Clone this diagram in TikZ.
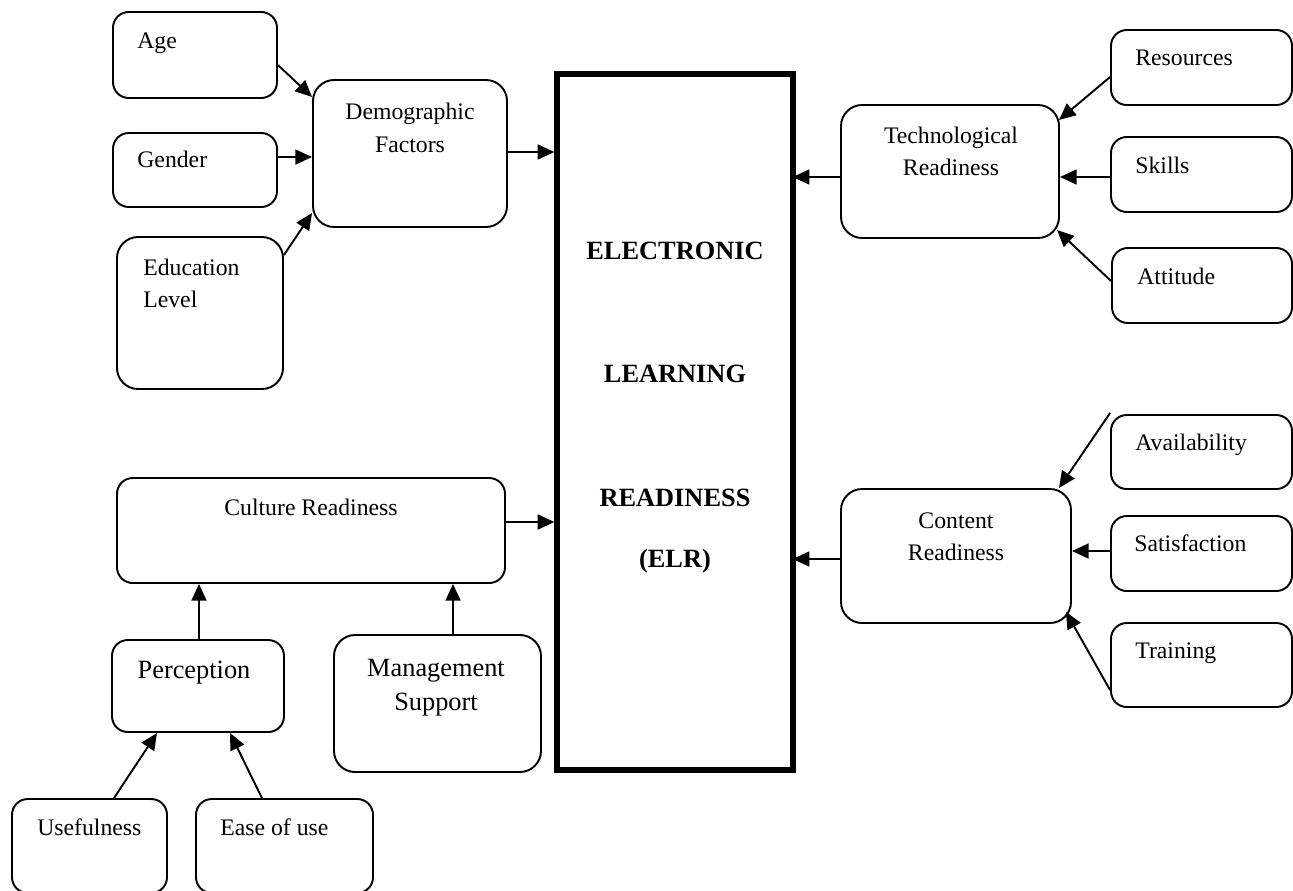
\documentclass[tikz,border=0pt]{standalone}
\usepackage{fontspec}
\setmainfont{Liberation Serif}
\usetikzlibrary{arrows.meta,fit,calc}
\begin{document}
\begin{tikzpicture}[x=0.02cm,y=-0.02cm,
  box/.style={draw,line width=1.1pt,rounded corners=9pt,inner sep=0pt,rectangle},
  bigbox/.style={box,rounded corners=12pt},
  elrbox/.style={draw,line width=3pt,inner sep=0pt,rectangle},
  txt/.style={inner sep=0pt,font=\fontsize{13.5}{16}\selectfont},
  bigtxt/.style={inner sep=0pt,font=\fontsize{15}{18}\selectfont},
  elrtxt/.style={inner sep=0pt,font=\fontsize{15}{18}\selectfont\bfseries},
  arr/.style={line width=1.1pt,-{Triangle[length=9.5pt,width=8.5pt]}}]
\useasboundingbox (0,0) rectangle (1293,890);
% boxes
\node[box,fit={(113,12)(277,98)}] (age) {};
\node[box,fit={(113,133)(277,207)}] (gender) {};
\node[bigbox,fit={(117,237)(283,389)}] (edu) {};
\node[bigbox,fit={(313,80)(507,227)}] (demo) {};
\node[elrbox,fit={(557,74)(793,770)}] (elr) {};
\node[bigbox,fit={(841,105)(1059,238)}] (tech) {};
\node[box,fit={(1111,30)(1292,105)}] (res) {};
\node[box,fit={(1111,137)(1292,212)}] (skills) {};
\node[box,fit={(1112,248)(1292,323)}] (att) {};
\node[box,fit={(1111,415)(1292,489)}] (avail) {};
\node[bigbox,fit={(841,489)(1071,623)}] (content) {};
\node[box,fit={(1111,516)(1292,591)}] (sat) {};
\node[box,fit={(1111,623)(1292,707)}] (train) {};
\node[box,fit={(117,478)(505,583)}] (culture) {};
\node[box,fit={(112,640)(284,732)}] (perc) {};
\node[bigbox,fit={(334,635)(541,772)}] (mgmt) {};
\node[box,fit={(12,799)(167,893)}] (use) {};
\node[box,fit={(196,799)(373,893)}] (ease) {};
% texts
\node[txt,anchor=base west] (tage) at (137,48) {Age};
\node[txt,anchor=base west] (tgender) at (137,167) {Gender};
\node[txt,anchor=base west] (tedu1) at (143,275) {Education};
\node[txt,anchor=base west] (tedu2) at (143,307) {Level};
\node[txt,anchor=base] (tdemo1) at (410,119) {Demographic};
\node[txt,anchor=base] (tdemo2) at (410,152) {Factors};
\node[txt,anchor=base] (ttech1) at (951,143) {Technological};
\node[txt,anchor=base] (ttech2) at (951,175) {Readiness};
\node[txt,anchor=base west] (tres) at (1135,65) {Resources};
\node[txt,anchor=base west] (tskills) at (1135,173) {Skills};
\node[txt,anchor=base west] (tatt) at (1137,284) {Attitude};
\node[txt,anchor=base west] (tavail) at (1135,450) {Availability};
\node[txt,anchor=base] (tcont1) at (956,528) {Content};
\node[txt,anchor=base] (tcont2) at (956,560) {Readiness};
\node[txt,anchor=base west] (tsat) at (1134,551) {Satisfaction};
\node[txt,anchor=base west] (ttrain) at (1135,658) {Training};
\node[txt,anchor=base] (tcult) at (311,515) {Culture Readiness};
\node[bigtxt,anchor=base] (tperc) at (194,678) {Perception};
\node[bigtxt,anchor=base] (tmgmt1) at (436,676) {Management};
\node[bigtxt,anchor=base] (tmgmt2) at (436,710) {Support};
\node[txt,anchor=base west] (tuse) at (37,835) {Usefulness};
\node[txt,anchor=base west] (tease) at (220,835) {Ease of use};
\node[elrtxt,anchor=base] (telr1) at (675,259) {ELECTRONIC};
\node[elrtxt,anchor=base] (telr2) at (675,382) {LEARNING};
\node[elrtxt,anchor=base] (telr3) at (675,506) {READINESS};
\node[elrtxt,anchor=base] (telr4) at (675,567) {(ELR)};
% arrows
\draw[arr] (age.east |- 0,65) -- (demo.west |- 0,97);
\draw[arr] (gender.east |- 0,157) -- (demo.west |- 0,157);
\draw[arr] (edu.east |- 0,255) -- (demo.west |- 0,213);
\draw[arr] (demo.east |- 0,152) -- (elr.west |- 0,152);
\draw[arr] (tech.west |- 0,177) -- ($(elr.east |- 0,177)+(-3,0)$);
\draw[arr] (res.west |- 0,77) -- ($(tech.east |- 0,120)+(-1,0)$);
\draw[arr] (skills.west |- 0,177) -- (tech.east |- 0,177);
\draw[arr] (att.west |- 0,281) -- ($(tech.east |- 0,230)+(-3,0)$);
\draw[arr] (avail.west |- 0,413) -- ($(content.north east)+(-13,0)$);
\draw[arr] (sat.west |- 0,551) -- (content.east |- 0,551);
\draw[arr] (train.west |- 0,690) -- ($(content.east |- 0,612)+(-6,0)$);
\draw[arr] (content.west |- 0,559) -- ($(elr.east |- 0,559)+(-3,0)$);
\draw[arr] (culture.east |- 0,522) -- (elr.west |- 0,522);
\draw[arr] (perc.north -| 199,0) -- (culture.south -| 199,0);
\draw[arr] (mgmt.north -| 453,0) -- (culture.south -| 453,0);
\draw[arr] (use.north -| 114,0) -- (perc.south -| 157,0);
\draw[arr] (ease.north -| 262,0) -- (perc.south -| 230,0);
\end{tikzpicture}
\end{document}
